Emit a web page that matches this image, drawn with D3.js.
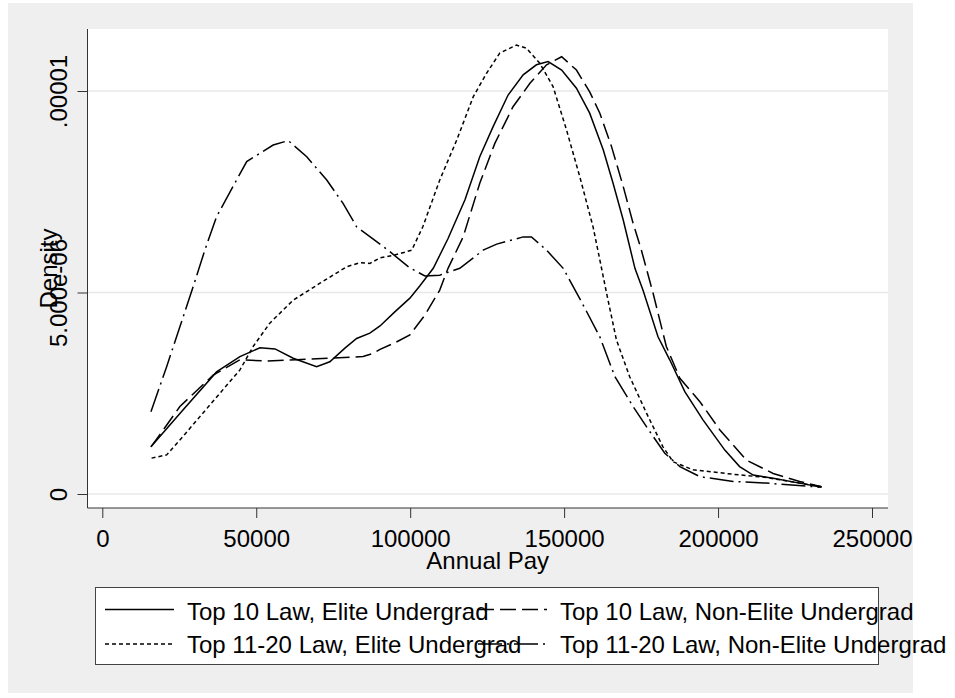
<!DOCTYPE html>
<html>
<head>
<meta charset="utf-8">
<script src="https://cdn.jsdelivr.net/npm/d3@7"></script>
<style>
  body { margin: 0; background: #fff; }
  text { font-family: "Liberation Sans", Arial, sans-serif; fill: #000; }
</style>
</head>
<body>
<div id="chart"></div>
<script>
// [annual pay, density in units of 1e-6]
const top10Elite = [
  [15800, 1.17], [25200, 2.00], [37100, 3.03], [44700, 3.41], [51200, 3.63],
  [56100, 3.60], [62000, 3.37], [69600, 3.16], [73900, 3.28], [78800, 3.62],
  [82600, 3.86], [86900, 3.99], [90200, 4.17], [95000, 4.52], [99900, 4.86],
  [103100, 5.16], [107500, 5.60], [112300, 6.34], [117800, 7.30], [122600, 8.37],
  [126900, 9.11], [131800, 9.90], [136700, 10.40], [141000, 10.65], [144800, 10.73],
  [149200, 10.52], [154000, 10.07], [158300, 9.45], [162700, 8.54], [165900, 7.71],
  [169200, 6.80], [173000, 5.60], [175600, 5.06], [180500, 3.90], [184300, 3.33],
  [189200, 2.54], [195100, 1.84], [202200, 1.09], [207000, 0.68], [211400, 0.47],
  [217900, 0.39], [226500, 0.27], [233600, 0.17]
];
const top10NonElite = [
  [15800, 1.17], [19800, 1.59], [25200, 2.17], [36000, 2.95], [44700, 3.33],
  [53400, 3.30], [63100, 3.33], [73900, 3.37], [84700, 3.41], [88000, 3.49],
  [90200, 3.59], [95000, 3.75], [99900, 3.95], [104800, 4.44], [109600, 5.06],
  [112300, 5.60], [117200, 6.38], [122600, 7.71], [127500, 8.70], [133400, 9.61],
  [138900, 10.19], [144300, 10.65], [149200, 10.85], [154000, 10.52], [158300, 9.98],
  [161600, 9.45], [165400, 8.62], [169200, 7.63], [172400, 6.72], [175100, 6.05],
  [178900, 4.98], [183200, 3.66], [187600, 2.87], [194100, 2.29], [200600, 1.59],
  [209200, 0.84], [217900, 0.51], [226500, 0.31], [233600, 0.18]
];
const top20Elite = [
  [16000, 0.89], [20900, 0.97], [25200, 1.34], [31700, 1.92], [38200, 2.50],
  [44700, 3.08], [49000, 3.66], [54400, 4.24], [62000, 4.81], [70700, 5.23],
  [79400, 5.64], [83700, 5.74], [86900, 5.72], [90200, 5.86], [95000, 5.93],
  [100500, 6.05], [104100, 6.63], [109600, 7.79], [115100, 8.78], [120500, 9.86],
  [124800, 10.44], [129100, 10.94], [134500, 11.14], [137800, 11.06], [142100, 10.69],
  [146400, 10.11], [150800, 9.03], [155100, 7.87], [159400, 6.63], [161600, 5.81],
  [163800, 4.98], [167000, 3.82], [171300, 2.91], [176800, 2.00], [182100, 1.17],
  [185400, 0.80], [191900, 0.60], [204900, 0.49], [215700, 0.41], [233600, 0.18]
];
const top20NonElite = [
  [15800, 2.04], [20900, 3.16], [25200, 4.15], [29500, 5.14], [33300, 6.05],
  [37100, 6.88], [43600, 7.79], [46900, 8.25], [55500, 8.66], [60400, 8.77],
  [66400, 8.37], [72900, 7.79], [78200, 7.21], [82600, 6.63], [89100, 6.26],
  [92800, 6.05], [99900, 5.61], [104800, 5.41], [109600, 5.43], [116100, 5.60],
  [123700, 6.05], [128100, 6.20], [136700, 6.38], [139400, 6.38], [144300, 6.05],
  [149700, 5.60], [155700, 4.76], [161600, 3.90], [166500, 2.91], [172400, 2.17],
  [177800, 1.55], [182700, 1.01], [187600, 0.68], [194100, 0.43], [204900, 0.31],
  [215700, 0.27], [233000, 0.17]
];

const seriesNames = [
  "Top 10 Law, Elite Undergrad",
  "Top 10 Law, Non-Elite Undergrad",
  "Top 11-20 Law, Elite Undergrad",
  "Top 11-20 Law, Non-Elite Undergrad"
];
const xTicks = [0, 50000, 100000, 150000, 200000, 250000];
const yTicks = [0, 5e-6, 1e-5];
const yTickLabels = ["0", "5.000e-06", ".00001"];

const width = 955, height = 698;
const plot = {left: 87.5, right: 888, top: 29, bottom: 508};

const svg = d3.select('#chart').append('svg')
  .attr('width', width)
  .attr('height', height);

svg.append('rect')
  .attr('x', 8).attr('y', 3)
  .attr('width', 905).attr('height', 690)
  .attr('fill', '#efefef');

svg.append('rect')
  .attr('x', plot.left).attr('y', plot.top)
  .attr('width', plot.right - plot.left).attr('height', plot.bottom - plot.top)
  .attr('fill', '#fff');

const x = d3.scaleLinear().domain([0, 250000]).range([102.3, 872]);
const y = d3.scaleLinear().domain([0, 1e-5]).range([494, 91]);

// gridlines
svg.append('g').selectAll('line')
  .data(yTicks)
  .join('line')
  .attr('x1', plot.left).attr('x2', plot.right)
  .attr('y1', d => y(d)).attr('y2', d => y(d))
  .attr('stroke', '#e8e8e8')
  .attr('stroke-width', 1.5);

// series
const styles = [null, '16,6', '4,3', '24,5,2,5'];
const allSeries = [top10Elite, top10NonElite, top20Elite, top20NonElite];
const line = d3.line()
  .x(d => x(d[0]))
  .y(d => y(d[1] * 1e-6));

svg.append('g').selectAll('path')
  .data(allSeries)
  .join('path')
  .attr('d', line)
  .attr('fill', 'none')
  .attr('stroke', '#000')
  .attr('stroke-width', 1.5)
  .attr('stroke-dasharray', (d, i) => styles[i]);

// axes
const xAxis = svg.append('g')
  .attr('transform', `translate(0,${plot.bottom})`)
  .call(d3.axisBottom(x).tickValues(xTicks).tickFormat(d3.format('d')).tickSize(10).tickSizeOuter(0).tickPadding(12));
xAxis.select('.domain').remove();
xAxis.selectAll('text').attr('font-size', 24).attr('fill', '#000')
  .attr('font-family', '"Liberation Sans", Arial, sans-serif');
xAxis.selectAll('line').attr('stroke', '#333');

const yAxis = svg.append('g')
  .attr('transform', `translate(${plot.left},0)`)
  .call(d3.axisLeft(y).tickValues(yTicks).tickFormat((d, i) => yTickLabels[i]).tickSize(10).tickSizeOuter(0));
yAxis.select('.domain').remove();
yAxis.selectAll('line').attr('stroke', '#333');
yAxis.selectAll('text')
  .attr('font-size', 24).attr('fill', '#000')
  .attr('font-family', '"Liberation Sans", Arial, sans-serif')
  .attr('x', null).attr('dy', null)
  .attr('text-anchor', 'middle')
  .attr('transform', 'translate(-20.5,0) rotate(-90)');

svg.append('line')
  .attr('x1', plot.left).attr('x2', plot.left)
  .attr('y1', plot.top).attr('y2', plot.bottom)
  .attr('stroke', '#333');
svg.append('line')
  .attr('x1', plot.left).attr('x2', plot.right)
  .attr('y1', plot.bottom).attr('y2', plot.bottom)
  .attr('stroke', '#333');

// axis titles
svg.append('text')
  .attr('x', (plot.left + plot.right) / 2).attr('y', 569)
  .attr('text-anchor', 'middle')
  .attr('font-size', 24)
  .text('Annual Pay');
svg.append('text')
  .attr('transform', `translate(57,${(plot.top + plot.bottom) / 2}) rotate(-90)`)
  .attr('text-anchor', 'middle')
  .attr('font-size', 24)
  .text('Density');

// legend
svg.append('rect')
  .attr('x', 95.5).attr('y', 587.5)
  .attr('width', 783).attr('height', 77)
  .attr('fill', '#fff')
  .attr('stroke', '#444');

const legendPos = [
  {kx: 105, ty: 619.5, ky: 609.5},
  {kx: 478, ty: 619.5, ky: 609.5},
  {kx: 105, ty: 653, ky: 644},
  {kx: 478, ty: 653, ky: 644}
];
const legend = svg.append('g').selectAll('g')
  .data(seriesNames)
  .join('g');
legend.append('line')
  .attr('x1', (d, i) => legendPos[i].kx)
  .attr('x2', (d, i) => legendPos[i].kx + 69)
  .attr('y1', (d, i) => legendPos[i].ky)
  .attr('y2', (d, i) => legendPos[i].ky)
  .attr('stroke', '#000')
  .attr('stroke-width', 1.5)
  .attr('stroke-dasharray', (d, i) => styles[i]);
legend.append('text')
  .attr('x', (d, i) => legendPos[i].kx + 82)
  .attr('y', (d, i) => legendPos[i].ty)
  .attr('font-size', 24)
  .text(d => d);
</script>
</body>
</html>
